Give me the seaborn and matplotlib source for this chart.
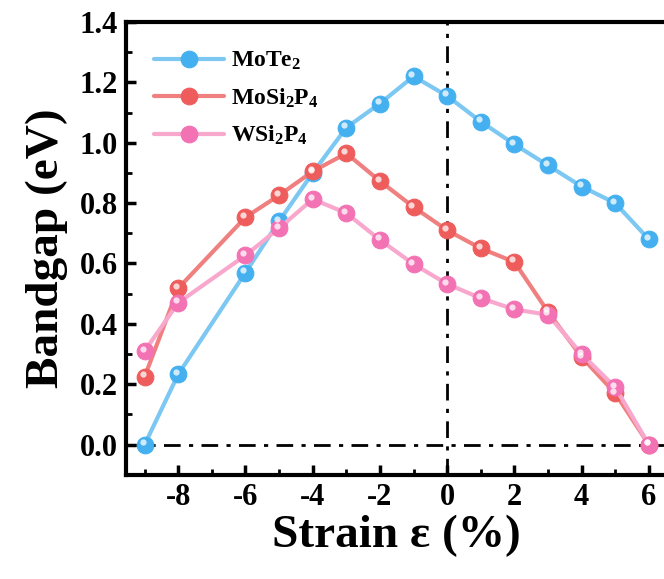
"""Bandgap vs strain for MoTe2 / MoSi2P4 / WSi2P4"""
import numpy as np
import pandas as pd
import matplotlib
matplotlib.use('Agg')
import matplotlib.pyplot as plt
import matplotlib.transforms as mtransforms
from matplotlib.ticker import MultipleLocator, FormatStrFormatter
import seaborn as sns

strain = [-9, -8, -6, -5, -4, -3, -2, -1, 0, 1, 2, 3, 4, 5, 6]
gap_mote2 = [0.0, 0.233, 0.57, 0.74, 0.90, 1.05, 1.13, 1.22, 1.155, 1.07, 0.995, 0.925, 0.855, 0.80, 0.68]
gap_mosi2p4 = [0.225, 0.518, 0.753, 0.826, 0.905, 0.965, 0.873, 0.787, 0.71, 0.65, 0.605, 0.44, 0.29, 0.17, 0.0]
gap_wsi2p4 = [0.31, 0.47, 0.627, 0.717, 0.813, 0.767, 0.678, 0.598, 0.532, 0.485, 0.448, 0.43, 0.30, 0.19, 0.0]

series_names = ['MoTe$_2$', 'MoSi$_2$P$_4$', 'WSi$_2$P$_4$']
line_colors = ['#7CC8F2', '#F08080', '#F8A8CC']
marker_colors = ['#45B0F0', '#EE5C5C', '#F272B4']

sns.set_style('ticks')
plt.rcParams['font.family'] = ['Liberation Serif', 'DejaVu Serif']
plt.rcParams['font.weight'] = 'bold'
plt.rcParams['axes.unicode_minus'] = False
plt.rcParams['mathtext.fontset'] = 'custom'
plt.rcParams['mathtext.rm'] = 'Liberation Serif:bold'
plt.rcParams['mathtext.it'] = 'Liberation Serif:italic:bold'
plt.rcParams['mathtext.bf'] = 'Liberation Serif:bold'
for key in ['text.color', 'axes.labelcolor', 'xtick.color', 'ytick.color', 'axes.edgecolor']:
    plt.rcParams[key] = 'black'

df = pd.DataFrame({
    'strain': strain * 3,
    'gap': gap_mote2 + gap_mosi2p4 + gap_wsi2p4,
    'material': sum([[n] * len(strain) for n in series_names], []),
})

fig = plt.figure(figsize=(6.64, 5.79), dpi=100)
ax = fig.add_axes([0.19, 0.18, 0.815, 0.782])

ax.axhline(0, color='black', lw=2, ls=(0, (6, 3, 1.5, 3)), zorder=1)
ax.axvline(0, color='black', lw=2, ls=(0, (6, 3, 1.5, 3)), zorder=1)

hl = mtransforms.offset_copy(ax.transData, fig=fig, x=-1.5, y=1.8, units='points')
for name, lc, mc in zip(series_names, line_colors, marker_colors):
    sub = df[df['material'] == name]
    sns.lineplot(data=sub, x='strain', y='gap', ax=ax, color=lc, lw=3,
                 marker='o', markersize=12, markerfacecolor=mc,
                 markeredgecolor=mc, markeredgewidth=0.8, label=name, zorder=3)
    ax.plot(sub['strain'], sub['gap'], ls='none', marker='o', markersize=4.5,
            color='white', alpha=0.75, markeredgewidth=0, transform=hl, zorder=4)

ax.set_xlim(-9.55, 6.55)
ax.set_ylim(-0.1, 1.4)
ax.xaxis.set_major_locator(MultipleLocator(2))
ax.xaxis.set_minor_locator(MultipleLocator(1))
ax.yaxis.set_major_locator(MultipleLocator(0.2))
ax.yaxis.set_minor_locator(MultipleLocator(0.1))
ax.set_xticks([-8, -6, -4, -2, 0, 2, 4, 6])
ax.set_yticks(np.round(np.arange(0, 1.41, 0.2), 1))
ax.yaxis.set_major_formatter(FormatStrFormatter('%.1f'))
ax.tick_params(which='major', direction='in', length=7, width=2.5, labelsize=22, pad=6)
ax.tick_params(which='minor', direction='in', length=4, width=2)
for lab in ax.get_xticklabels() + ax.get_yticklabels():
    lab.set_fontweight('bold')
for sp in ax.spines.values():
    sp.set_linewidth(3)
    sp.set_color('black')

ax.set_xlabel('Strain ε (%)', fontsize=34, fontweight='bold', labelpad=2)
ax.set_ylabel('Bandgap (eV)', fontsize=34, fontweight='bold', labelpad=8)

leg = ax.legend(loc='upper left', frameon=False, fontsize=17, handlelength=3.0,
                borderaxespad=0.3, labelspacing=0.6, handletextpad=0.3,
                bbox_to_anchor=(0.02, 0.975))

fig.savefig('out.png', dpi=100)
plt.close(fig)
